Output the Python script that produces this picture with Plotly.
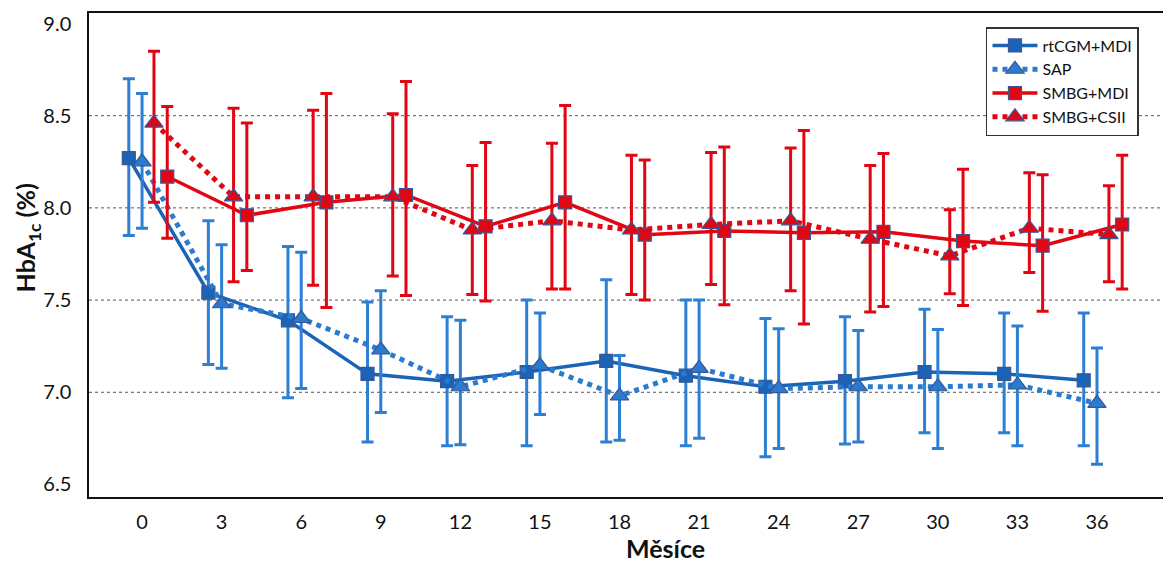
import plotly.graph_objects as go

months = [0, 3, 6, 9, 12, 15, 18, 21, 24, 27, 30, 33, 36]
tick_labels = [str(m) for m in months]

series_names = ["rtCGM+MDI", "SAP", "SMBG+MDI", "SMBG+CSII"]

rtcgm_mean = [8.27, 7.54, 7.39, 7.10, 7.06, 7.11, 7.17, 7.09, 7.03, 7.06, 7.11, 7.10, 7.065]
rtcgm_hi = [8.70, 7.93, 7.79, 7.49, 7.41, 7.50, 7.61, 7.50, 7.40, 7.41, 7.45, 7.43, 7.43]
rtcgm_lo = [7.85, 7.15, 6.97, 6.73, 6.71, 6.71, 6.73, 6.71, 6.65, 6.72, 6.78, 6.78, 6.71]

sap_mean = [8.25, 7.48, 7.40, 7.23, 7.03, 7.145, 6.98, 7.13, 7.02, 7.03, 7.03, 7.04, 6.94]
sap_hi = [8.62, 7.80, 7.76, 7.55, 7.39, 7.43, 7.20, 7.50, 7.345, 7.335, 7.34, 7.36, 7.24]
sap_lo = [7.89, 7.13, 7.02, 6.89, 6.715, 6.88, 6.74, 6.75, 6.695, 6.73, 6.695, 6.71, 6.61]

mdi_mean = [8.17, 7.96, 8.03, 8.07, 7.90, 8.03, 7.855, 7.875, 7.865, 7.87, 7.82, 7.795, 7.91]
mdi_hi = [8.55, 8.46, 8.62, 8.685, 8.355, 8.555, 8.26, 8.33, 8.42, 8.295, 8.21, 8.18, 8.285]
mdi_lo = [7.835, 7.66, 7.46, 7.525, 7.495, 7.56, 7.50, 7.475, 7.37, 7.465, 7.47, 7.44, 7.56]

csii_mean = [8.46, 8.06, 8.06, 8.06, 7.88, 7.93, 7.88, 7.91, 7.93, 7.83, 7.74, 7.89, 7.855]
csii_hi = [8.85, 8.54, 8.53, 8.51, 8.23, 8.35, 8.285, 8.30, 8.325, 8.23, 7.99, 8.19, 8.12]
csii_lo = [8.03, 7.60, 7.58, 7.63, 7.53, 7.56, 7.53, 7.585, 7.55, 7.435, 7.535, 7.65, 7.60]

# horizontal dodge of each group (months)
offsets = {"rtCGM+MDI": -0.5, "SAP": 0.0, "SMBG+CSII": 0.45, "SMBG+MDI": 0.95}

BLUE_LINE = "#1A64B8"
BLUE_DOT = "#2A7BD0"
BLUE_ERR = "#2C7FD3"
RED = "#E20613"
OUTLINE = "#3A5694"

FONT = "Lato, 'Open Sans', sans-serif"


def trace(name, mean, hi, lo, line_color, err_color, dash, symbol, msize, lwidth):
    xs = [m + offsets[name] for m in months]
    up = [h - v for h, v in zip(hi, mean)]
    down = [v - l for v, l in zip(mean, lo)]
    return go.Scatter(
        x=xs, y=mean, name=name, mode="lines+markers",
        line=dict(color=line_color, width=lwidth, dash=dash),
        marker=dict(symbol=symbol, size=msize, color=line_color,
                    line=dict(color=OUTLINE, width=1.2)),
        error_y=dict(type="data", symmetric=False, array=up, arrayminus=down,
                     color=err_color, thickness=3, width=6),
    )


fig = go.Figure()
fig.add_trace(trace("rtCGM+MDI", rtcgm_mean, rtcgm_hi, rtcgm_lo, BLUE_LINE, BLUE_ERR, "solid", "square", 13, 3.5))
fig.add_trace(trace("SAP", sap_mean, sap_hi, sap_lo, BLUE_DOT, BLUE_ERR, "5px,5px", "triangle-up", 16, 5))
fig.add_trace(trace("SMBG+MDI", mdi_mean, mdi_hi, mdi_lo, RED, RED, "solid", "square", 13, 3.5))
fig.add_trace(trace("SMBG+CSII", csii_mean, csii_hi, csii_lo, RED, RED, "5px,5px", "triangle-up", 16, 5))

grid_vals = [7.0, 7.5, 8.0, 8.5]
for g in grid_vals:
    fig.add_shape(type="line", xref="paper", x0=0, x1=1, yref="y", y0=g, y1=g,
                  line=dict(color="#555555", width=1, dash="dot"), layer="below")

# the page body adds an 8px margin, so the figure is sized/placed to compensate
fig.update_layout(
    width=1163, height=554,
    margin=dict(l=81, r=0, t=5, b=65, autoexpand=False),
    paper_bgcolor="white", plot_bgcolor="white",
    font=dict(family=FONT, color="#111111"),
    showlegend=True,
    legend=dict(x=0.829, y=0.971, xanchor="left", yanchor="top",
                bordercolor="#333333", borderwidth=1.5, bgcolor="white",
                font=dict(size=16, family=FONT, color="#111111"),
                itemwidth=45, entrywidth=160, tracegroupgap=0),
    xaxis=dict(range=[-2.0, 38.79], tickmode="array", tickvals=months, ticktext=tick_labels,
               showgrid=False, zeroline=False, showline=True, linecolor="#111111", linewidth=1.5,
               mirror=True, ticks="", tickfont=dict(size=20), ticklabelstandoff=6,
               automargin=False),
    yaxis=dict(range=[6.432, 9.057], tickmode="array", tickvals=[6.5, 7.0, 7.5, 8.0, 8.5, 9.0],
               ticktext=["6.5", "7.0", "7.5", "8.0", "8.5", "9.0"],
               showgrid=False, zeroline=False, showline=True, linecolor="#111111", linewidth=1.5,
               ticks="", tickfont=dict(size=20), ticklabelstandoff=12, automargin=False),
)

fig.add_annotation(text="<b>HbA<sub>1c</sub> (%)</b>", xref="paper", yref="paper",
                   x=-0.057, y=0.535, xanchor="center", yanchor="middle", textangle=-90,
                   showarrow=False, font=dict(size=25, family=FONT, color="#111111"))

fig.add_annotation(text="<b>Měsíce</b>", xref="paper", yref="paper",
                   x=(665 - 89) / 1082, y=-0.105, xanchor="center", yanchor="middle",
                   showarrow=False, font=dict(size=25, family=FONT, color="#111111"))

fig.write_html("out.html")
